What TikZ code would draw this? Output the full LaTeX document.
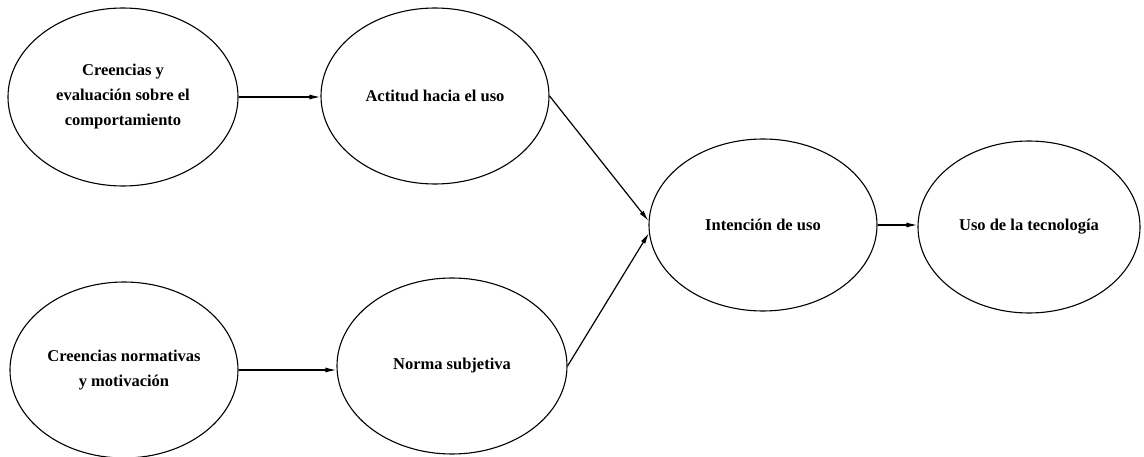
\documentclass[tikz,border=0pt]{standalone}
\usepackage{fontspec}
\setmainfont{Liberation Serif}
\usetikzlibrary{shapes.geometric,arrows.meta}
\begin{document}
\begin{tikzpicture}[x=1pt,y=-1pt,
  ell/.style={ellipse,draw,line width=1.1pt,inner sep=0pt,align=center,
    font=\fontsize{16.5}{25}\selectfont\bfseries},
  arr/.style={line width=1.2pt,-{Latex[length=11pt,width=5pt]}}]
\useasboundingbox (0,0) rectangle (1144,457);
\node[ell,minimum width=230pt,minimum height=178pt] (c1) at (123,97) {Creencias y\\evaluación sobre el\\comportamiento};
\node[ell,minimum width=228pt,minimum height=176pt] (a) at (435,96) {Actitud hacia el uso};
\node[ell,minimum width=228pt,minimum height=176pt] (c2) at (124,370) {Creencias normativas\\y motivación};
\node[ell,minimum width=230pt,minimum height=176pt] (n) at (452,366) {Norma subjetiva};
\node[ell,minimum width=228pt,minimum height=172pt] (i) at (763,225) {Intención de uso};
\node[ell,minimum width=222pt,minimum height=172pt] (u) at (1029,227) {Uso de la tecnología};
\draw[arr] (c1.east) -- (a.west |- c1.east);
\draw[arr] (c2.east) -- (n.west |- c2.east);
\draw[arr] (a.east) -- (i.178);
\draw[arr] (n.east) -- (i.184);
\draw[arr] (i.east) -- (u.west |- i.east);
\end{tikzpicture}
\end{document}
